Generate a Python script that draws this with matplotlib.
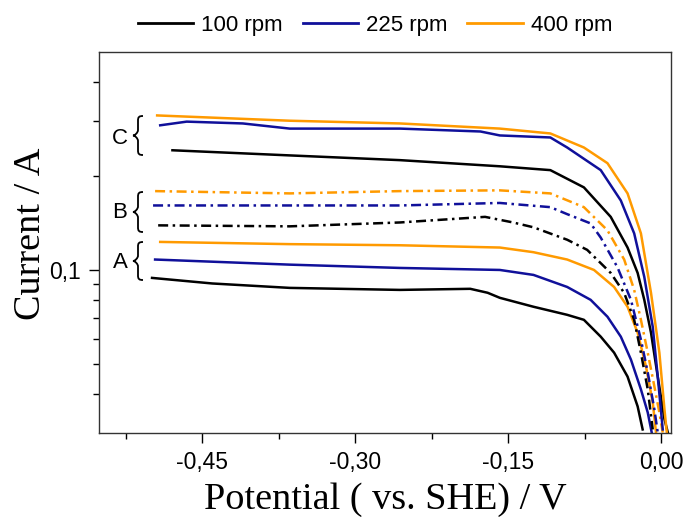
import matplotlib
matplotlib.use('Agg')
import matplotlib.pyplot as plt
from matplotlib.path import Path
from matplotlib.patches import PathPatch

# potential (V vs. SHE) and current (A)
# group A  (solid)
e_a100 = [-0.499, -0.440, -0.364, -0.256, -0.187, -0.170, -0.158, -0.125, -0.092, -0.0756, -0.0591, -0.046, -0.0328, -0.0229, -0.018]
i_a100 = [0.0943, 0.0905, 0.0876, 0.0863, 0.0870, 0.0845, 0.0814, 0.0762, 0.0718, 0.0692, 0.0611, 0.0543, 0.0455, 0.0365, 0.0308]
e_a225 = [-0.496, -0.364, -0.256, -0.158, -0.125, -0.092, -0.069, -0.0525, -0.0394, -0.0295, -0.0197, -0.013, -0.0091]
i_a225 = [0.108, 0.104, 0.1015, 0.100, 0.0964, 0.0882, 0.0802, 0.0708, 0.0611, 0.0516, 0.0414, 0.0349, 0.0301]
e_a400 = [-0.491, -0.364, -0.256, -0.158, -0.125, -0.092, -0.0657, -0.046, -0.0328, -0.0229, -0.0147, -0.0081, -0.0049]
i_a400 = [0.123, 0.121, 0.120, 0.118, 0.114, 0.108, 0.100, 0.0882, 0.0762, 0.0629, 0.0490, 0.0376, 0.0301]

# group B  (dash-dot)
e_b100 = [-0.493, -0.364, -0.256, -0.1725, -0.145, -0.125, -0.092, -0.0724, -0.0493, -0.0361, -0.0263, -0.0197, -0.013, -0.0081]
i_b100 = [0.139, 0.138, 0.142, 0.148, 0.142, 0.137, 0.125, 0.116, 0.0978, 0.0844, 0.0692, 0.0543, 0.0414, 0.0308]
e_b225 = [-0.498, -0.364, -0.256, -0.158, -0.1085, -0.092, -0.069, -0.0591, -0.0427, -0.0295, -0.0197, -0.013, -0.0065, -0.0032]
i_b225 = [0.161, 0.161, 0.161, 0.164, 0.159, 0.151, 0.141, 0.127, 0.102, 0.0802, 0.0598, 0.0469, 0.0357, 0.0301]
e_b400 = [-0.496, -0.364, -0.256, -0.158, -0.1085, -0.0756, -0.0525, -0.0361, -0.0263, -0.0197, -0.013, -0.0065, -0.0016, 0.0017]
i_b400 = [0.179, 0.176, 0.179, 0.180, 0.176, 0.159, 0.134, 0.108, 0.0863, 0.0692, 0.0543, 0.0423, 0.0349, 0.0301]

# group C  (solid)
e_c100 = [-0.479, -0.364, -0.256, -0.158, -0.1085, -0.0756, -0.0493, -0.0328, -0.0229, -0.0164, -0.0098, -0.0032, 0.0034, 0.0067]
i_c100 = [0.242, 0.233, 0.225, 0.215, 0.209, 0.184, 0.148, 0.118, 0.0978, 0.0802, 0.0629, 0.0455, 0.0332, 0.0301]
e_c225 = [-0.491, -0.465, -0.410, -0.364, -0.256, -0.177, -0.158, -0.1085, -0.092, -0.0591, -0.0394, -0.0263, -0.0164, -0.0081, -0.0032, 0.0017]
i_c225 = [0.291, 0.299, 0.295, 0.284, 0.284, 0.278, 0.270, 0.266, 0.247, 0.209, 0.167, 0.131, 0.0950, 0.0657, 0.0455, 0.0308]
e_c400 = [-0.494, -0.364, -0.256, -0.158, -0.1085, -0.0756, -0.0525, -0.0328, -0.0197, -0.0098, -0.0016, 0.0034, 0.0057]
i_c400 = [0.313, 0.301, 0.295, 0.284, 0.274, 0.247, 0.220, 0.176, 0.131, 0.0844, 0.0543, 0.0357, 0.0301]

speeds = ['100 rpm', '225 rpm', '400 rpm']
colors = ['#000000', '#10109a', '#ff9a00']
xticks = [-0.45, -0.30, -0.15, 0.00]
xticklabels = ['-0,45', '-0,30', '-0,15', '0,00']

W, H = 685, 517
fig = plt.figure(figsize=(W/100, H/100), dpi=100)
ax = fig.add_axes([99/W, 1-433/H, (671-99)/W, (433-52)/H])

dashdot = (0, (4, 1.8, 1, 1.8))
groups = [
  ([e_a100, e_a225, e_a400], [i_a100, i_a225, i_a400], '-'),
  ([e_b100, e_b225, e_b400], [i_b100, i_b225, i_b400], dashdot),
  ([e_c100, e_c225, e_c400], [i_c100, i_c225, i_c400], '-'),
]
for es, cs, ls in groups:
  for e, c, col in zip(es, cs, colors):
    ax.plot(e, c, color=col, lw=1.8, ls=ls)

ax.set_yscale('log')
ax.set_xlim(-0.551, 0.0098)
ax.set_ylim(0.03, 0.5)

ax.set_xticks(xticks)
ax.set_xticklabels(xticklabels)
ax.set_xticks([-0.525, -0.375, -0.225, -0.075], minor=True)
ax.set_yticks([0.1])
ax.set_yticklabels(['0,1'])
ax.set_yticks([0.04, 0.05, 0.06, 0.07, 0.08, 0.09, 0.2, 0.3, 0.4], minor=True)
ax.set_yticklabels([], minor=True)

ax.tick_params(which='major', direction='out', length=7, width=1.0,
               labelsize=16.5, pad=6)
ax.tick_params(which='minor', direction='out', length=4, width=1.0)
for lab in ax.get_xticklabels() + ax.get_yticklabels():
  lab.set_family('Liberation Sans')
for sp in ax.spines.values():
  sp.set_linewidth(1.0)
  sp.set_color('#333333')

ax.set_xlabel('Potential ( vs. SHE) / V', family='Liberation Serif', fontsize=27.5)
ax.set_ylabel('Current / A', family='Liberation Serif', fontsize=27.5)
ax.xaxis.set_label_coords(0.5, -0.13)
ax.yaxis.set_label_coords(-0.09, 0.522)

# legend above the frame
handles = [plt.Line2D([], [], color=c, lw=2) for c in colors]
fig.legend(handles, speeds, loc='center', bbox_to_anchor=(375/W, 1-25/H),
           ncol=3, frameon=False, handlelength=2.5, handletextpad=0.35,
           columnspacing=0.9, prop={'family': 'Liberation Sans', 'size': 16})

# group labels with curly braces (pixel positions)
def brace(x, ytop, ybot, w=10):
  ym = (ytop + ybot)/2
  h = ybot - ytop
  s = x + w*0.5
  pts = [(x + w, ytop),
         (s + 1, ytop), (s, ytop + 1), (s, ytop + h*0.12),
         (s, ym - h*0.14),
         (s, ym - 3), (x + w*0.2, ym), (x, ym),
         (x + w*0.2, ym), (s, ym + 3), (s, ym + h*0.14),
         (s, ybot - h*0.12),
         (s, ybot - 1), (s + 1, ybot), (x + w, ybot)]
  codes = [Path.MOVETO] + [Path.CURVE4]*3 + [Path.LINETO] + [Path.CURVE4]*6 + \
          [Path.LINETO] + [Path.CURVE4]*3
  verts = [(px/W, 1 - py/H) for px, py in pts]
  fig.add_artist(PathPatch(Path(verts, codes), transform=fig.transFigure,
                           fill=False, lw=1.3, color='black'))

for name, ypx, ytop, ybot in [('C', 139, 116, 155), ('B', 212, 192, 232), ('A', 263, 242, 280)]:
  fig.text(120/W, 1 - ypx/H, name, fontsize=16, family='Liberation Sans',
           ha='center', va='center')
  brace(133, ytop, ybot)

fig.savefig('out.png', dpi=100)
